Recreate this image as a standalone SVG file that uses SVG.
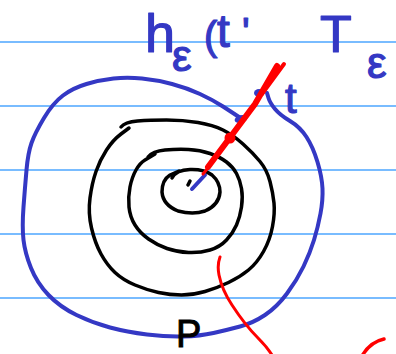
<svg xmlns="http://www.w3.org/2000/svg" width="396" height="354" viewBox="0 0 396 354">
<style>
.rule{stroke:#4da6ff;stroke-width:1.6}
.ink{fill:none;stroke-linecap:round;stroke-linejoin:round}
.blue{stroke:#3438c4;stroke-width:4}
.black{stroke:#000;stroke-width:3.5}
.red{stroke:#ff0000}
.tb{font-family:"Liberation Sans",Arial,sans-serif;fill:#3438c4;stroke:#3438c4;stroke-width:1.2;stroke-linejoin:round}
.tk{font-family:"Liberation Sans",Arial,sans-serif;fill:#000;stroke:#000;stroke-width:1}
</style>
<rect width="396" height="354" fill="#fff"/>
<g id="rules">
<line class="rule" x1="0" y1="42" x2="396" y2="42"/>
<line class="rule" x1="0" y1="106" x2="396" y2="106"/>
<line class="rule" x1="0" y1="170" x2="396" y2="170"/>
<line class="rule" x1="0" y1="234" x2="396" y2="234"/>
<line class="rule" x1="0" y1="298" x2="396" y2="298"/>
</g>
<g id="outer-loop">
<path class="ink blue" d="M242,119 Q233,113 223,106.5 Q213,100 200,94 Q187,88 172,84 Q157,80 142,78.5 Q127,77 113.5,78.5 Q100,80 86.5,84 Q73,88 63,95.5 Q53,103 44,118 Q35,133 31.5,143 Q28,153 26.5,170 Q25,187 23.5,207 Q22,227 23.5,240 Q25,253 31,268 Q37,283 48.5,295 Q60,307 76.5,315 Q93,323 110,327.5 Q127,332 147,334.5 Q167,337 183.5,336.5 Q200,336 213.5,333 Q227,330 240,326.5 Q253,323 265,315 Q277,307 287,293.5 Q297,280 303.5,266.5 Q310,253 314,240 Q318,227 320.5,213.5 Q323,200 322.5,188.5 Q322,177 317.5,162 Q313,147 306.5,137 Q300,127 290,121 Q280,115 275,109 Q270,103 268.5,98 L267,93"/>
<ellipse cx="241" cy="119" rx="6.5" ry="3.8" fill="#3438c4" transform="rotate(-15 241 119)"/>
<ellipse cx="259" cy="93" rx="5" ry="4" fill="#3438c4"/>
</g>
<g id="rings">
<path class="ink black" d="M121,127 Q125,122 137.5,121 Q150,120 166.5,120 Q183,120 198,122.5 Q213,125 223,130 Q233,135 243,144 Q253,153 260,161.5 Q267,170 270,181.5 Q273,193 274,203 Q275,213 272.5,226.5 Q270,240 263.5,251.5 Q257,263 248.5,270 Q240,277 228.5,282.5 Q217,288 205,291.5 Q193,295 181.5,295 Q170,295 158.5,292.5 Q147,290 135,285 Q123,280 115,272.5 Q107,265 101,254 Q95,243 91.5,228 Q88,213 90,198 Q92,183 96,171.5 Q100,160 106.5,150 Q113,140 121,134 L129,128"/>
<path class="ink black" d="M148,157 Q153,151 165,150 Q177,149 188.5,149.5 Q200,150 210,153.5 Q220,157 226.5,162 Q233,167 236.5,173.5 Q240,180 241.5,188.5 Q243,197 241.5,207 Q240,217 236.5,225 Q233,233 226.5,240 Q220,247 210,250 Q200,253 188.5,252.5 Q177,252 167,248.5 Q157,245 148.5,239 Q140,233 135,225 Q130,217 129,207 Q128,197 130,187 Q132,177 136,170 Q140,163 145,160 L155,154"/>
<path class="ink black" d="M172,178 Q176,170 190,169.5 Q204,169 212,175 Q220,182 220,192 Q219,205 205,211 Q193,215 178,211 Q163,205 162,192 Q162,180 170,175 L179,171"/>
<path class="ink black" d="M188,185 L190,181"/>
</g>
<g id="connectors">
<path class="ink blue" stroke-width="3" d="M192,189 L205,175"/>
<path class="ink red" stroke-width="3" d="M203,174 L212,163"/>
<path class="ink red" stroke-width="6" d="M208,167 L255,104 L277,66"/>
<path class="ink red" stroke-width="4" d="M262,94 L284,64"/>
<circle cx="230" cy="138" r="5.5" fill="#ff0000"/>
<path class="ink red" stroke-width="3" d="M220,257 Q217,265 219,275 Q222,290 232,305 Q245,325 258,338 Q267,347 272,355"/>
<path class="ink red" stroke-width="3.5" d="M362,356 Q370,342 384,339"/>
</g>
<g id="labels">
<text class="tb"><tspan x="145" y="52" font-size="54">h</tspan><tspan x="172" y="71" font-size="44">ε</tspan><tspan x="204" y="50" font-size="40">(</tspan><tspan x="217" y="47" font-size="46">t</tspan><tspan x="242" y="46" font-size="40">'</tspan></text>
<text class="tb"><tspan x="320" y="52" font-size="52">T</tspan><tspan x="367" y="78" font-size="44">ε</tspan></text>
<text class="tb" x="285" y="113" font-size="42">t</text>
<text class="tk" x="176" y="347" font-size="38">P</text>
</g>
</svg>
